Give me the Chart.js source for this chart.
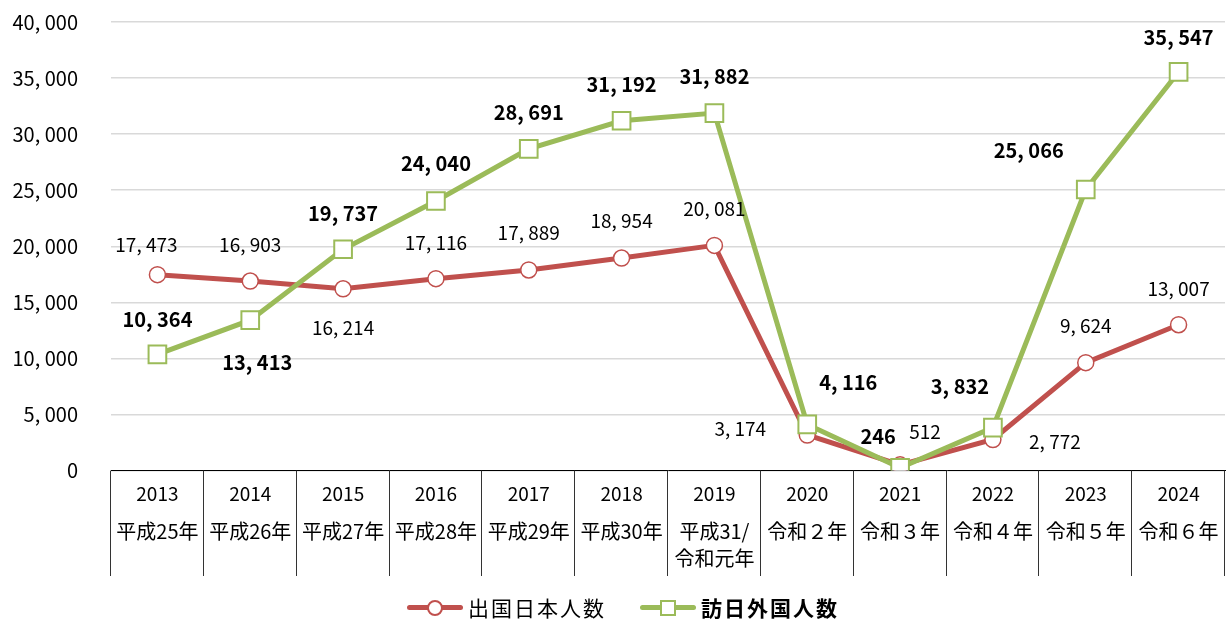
<!DOCTYPE html>
<html lang="ja">
<head>
<meta charset="utf-8">
<script src="https://cdn.jsdelivr.net/npm/chart.js@4.4.1/dist/chart.umd.min.js"></script>
<style>
  html, body { margin: 0; padding: 0; background: #fff; }
  #wrap { position: relative; width: 1227px; height: 619px; }
  #legend {
    position: absolute; left: 407px; top: 594px; height: 26px;
    display: flex; align-items: center;
    font-family: "Noto Sans CJK JP"; font-size: 21px; letter-spacing: 2px; color: #000;
  }
  .item { display: flex; align-items: center; }
  .sym { position: relative; width: 56px; height: 20px; margin-right: 5px; }
  .sym .ln { position: absolute; left: 0; right: 0; top: 8px; height: 5px; border-radius: 3px; }
  .sym .mk { position: absolute; left: 20px; top: 3px; width: 12px; height: 12px; background: #fff; border: 2px solid; }
</style>
</head>
<body>
<div id="wrap">
  <canvas id="chart" width="1227" height="619"></canvas>
  <div id="legend">
    <div class="item">
      <div class="sym"><div class="ln" style="background:#c0504d"></div><div class="mk" style="border-color:#c0504d;border-radius:50%"></div></div>
      <span>出国日本人数</span>
    </div>
    <div class="item" style="margin-left:34px">
      <div class="sym"><div class="ln" style="background:#9bbb59"></div><div class="mk" style="border-color:#9bbb59"></div></div>
      <span style="font-weight:bold">訪日外国人数</span>
    </div>
  </div>
</div>
<script>
// 年（西暦）と和暦
const years = ["2013", "2014", "2015", "2016", "2017", "2018", "2019", "2020", "2021", "2022", "2023", "2024"];
const eras = [
  ["平成25年"], ["平成26年"], ["平成27年"], ["平成28年"], ["平成29年"], ["平成30年"],
  ["平成31/", "令和元年"], ["令和２年"], ["令和３年"], ["令和４年"], ["令和５年"], ["令和６年"]
];

// 千人
const outbound = [17473, 16903, 16214, 17116, 17889, 18954, 20081, 3174, 512, 2772, 9624, 13007];
const inbound = [10364, 13413, 19737, 24040, 28691, 31192, 31882, 4116, 246, 3832, 25066, 35547];

const yTicks = [0, 5000, 10000, 15000, 20000, 25000, 30000, 35000, 40000];

// ラベル位置（点からのずれ）
const outLabelDx = [-11, 0, 0, 0, 0, 0, 0, -67, 25, 62, 0, 0];
const outLabelDy = [-30, -36, 39, -36, -37, -37, -37, -6, -33, 2, -37, -36];
const inLabelDx = [0, 7, 0, 0, 0, 0, 0, 41, -22, -33, -57, 0];
const inLabelDy = [-35, 42, -36, -38, -36, -36, -37, -42, -31, -41, -39, -35];

const FONT = "'Noto Sans CJK JP', 'Noto Sans', sans-serif";
const RED = "#c0504d";
const GREEN = "#9bbb59";

const fmt = v => String(v).replace(/\B(?=(\d{3})+(?!\d))/g, ", ");

// 値ラベル
const valueLabels = {
  id: "valueLabels",
  afterDatasetsDraw(chart) {
    const ctx = chart.ctx;
    ctx.save();
    ctx.textAlign = "center";
    ctx.textBaseline = "middle";
    ctx.fillStyle = "#000";
    chart.data.datasets.forEach((ds, di) => {
      const meta = chart.getDatasetMeta(di);
      ctx.font = (ds.labelBold ? "bold " : "") + ds.labelSize + "px " + FONT;
      meta.data.forEach((pt, i) => {
        ctx.fillText(fmt(ds.data[i]), pt.x + ds.labelDx[i], pt.y + ds.labelDy[i]);
      });
    });
    ctx.restore();
  }
};

// 軸下の表の縦線
const tableLines = {
  id: "tableLines",
  afterDraw(chart) {
    const x = chart.scales.x;
    const x2 = chart.scales.x2;
    const ctx = chart.ctx;
    const step = (x.right - x.left) / years.length;
    ctx.save();
    ctx.strokeStyle = "#333";
    ctx.lineWidth = 1;
    for (let i = 0; i <= years.length; i++) {
      const px = Math.round(x.left + i * step) - 0.5;
      ctx.beginPath();
      ctx.moveTo(px, chart.chartArea.bottom);
      ctx.lineTo(px, x2.bottom + 3);
      ctx.stroke();
    }
    ctx.restore();
  }
};

const noSidePad = s => { s.paddingLeft = 0; s.paddingRight = 0; };

new Chart(document.getElementById("chart"), {
  type: "line",
  data: {
    labels: years,
    datasets: [
      {
        label: "出国日本人数",
        data: outbound,
        borderColor: RED,
        borderWidth: 5,
        pointStyle: "circle",
        pointRadius: 8,
        pointBorderWidth: 1.5,
        pointBackgroundColor: "#fff",
        pointBorderColor: RED,
        order: 1,
        labelBold: false,
        labelSize: 19,
        labelDx: outLabelDx,
        labelDy: outLabelDy
      },
      {
        label: "訪日外国人数",
        data: inbound,
        borderColor: GREEN,
        borderWidth: 5,
        pointStyle: "rect",
        pointRadius: 12.5,
        pointBorderWidth: 2,
        pointBackgroundColor: "#fff",
        pointBorderColor: GREEN,
        order: 0,
        labelBold: true,
        labelSize: 20,
        labelDx: inLabelDx,
        labelDy: inLabelDy
      }
    ]
  },
  options: {
    responsive: false,
    animation: false,
    layout: { autoPadding: false, padding: { top: 22, right: 2, bottom: 46, left: 0 } },
    plugins: {
      legend: { display: false },
      tooltip: { enabled: false }
    },
    scales: {
      y: {
        min: 0,
        max: 40000,
        afterBuildTicks: s => { s.ticks = yTicks.map(v => ({ value: v })); },
        afterFit: s => { s.width = 111; s.paddingTop = 0; s.paddingBottom = 0; },
        border: { display: false },
        grid: { color: "#d9d9d9", lineWidth: 1.5, drawTicks: false },
        ticks: {
          padding: 33,
          color: "#000",
          font: { family: FONT, size: 20 },
          callback: v => fmt(v)
        }
      },
      x: {
        offset: true,
        afterFit: noSidePad,
        border: { display: true, color: "#000", width: 1 },
        grid: { display: false, drawTicks: false },
        ticks: {
          padding: 8,
          color: "#000",
          maxRotation: 0,
          autoSkip: false,
          font: { family: FONT, size: 19, lineHeight: 1.6 }
        }
      },
      x2: {
        type: "category",
        position: "bottom",
        labels: eras,
        offset: true,
        afterFit: noSidePad,
        border: { display: false },
        grid: { display: false, drawTicks: false },
        ticks: {
          padding: 1,
          color: "#000",
          maxRotation: 0,
          autoSkip: false,
          font: { family: FONT, size: 20, lineHeight: 1.35 }
        }
      }
    }
  },
  plugins: [valueLabels, tableLines]
});
</script>
</body>
</html>
